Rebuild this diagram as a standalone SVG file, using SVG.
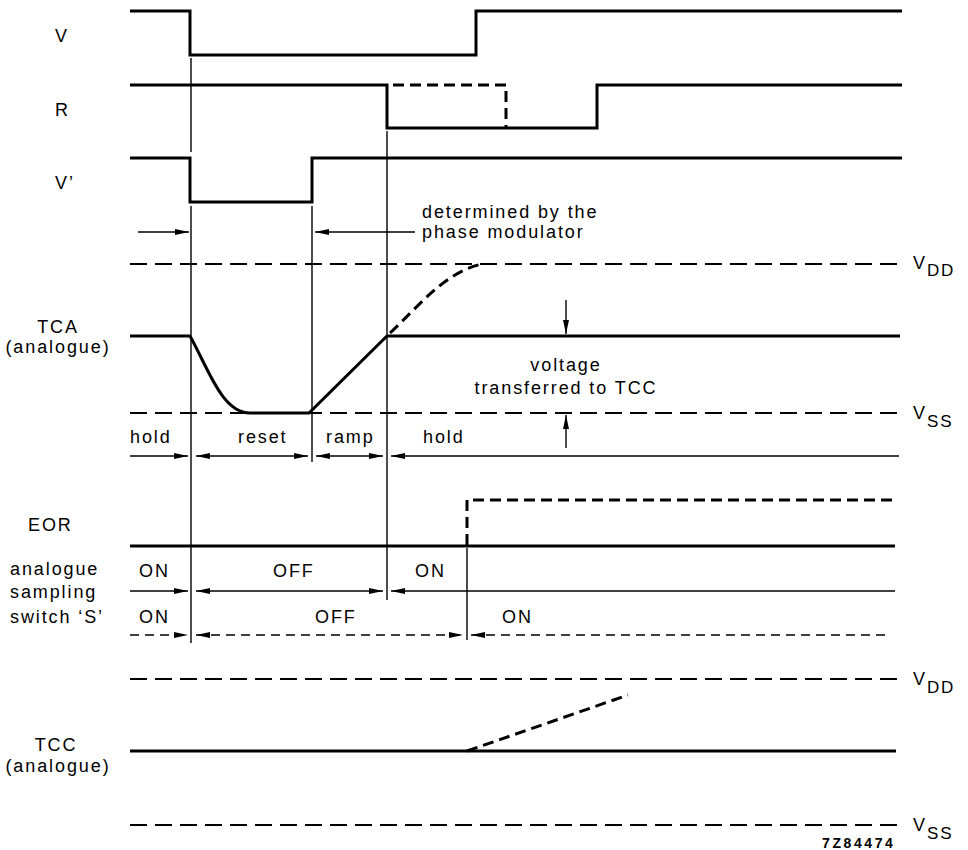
<svg xmlns="http://www.w3.org/2000/svg" width="968" height="850" viewBox="0 0 968 850">
<defs>
<marker id="ah" viewBox="0 0 14 6" refX="14" refY="3" markerWidth="14" markerHeight="6" orient="auto-start-reverse" markerUnits="userSpaceOnUse"><path d="M0,0 L14,3 L0,6 z" fill="#000"/></marker>
<style>
.t{font-family:"Liberation Sans",Arial,sans-serif;font-size:18px;letter-spacing:1.9px;fill:#000}
.s{font-size:17px}
.m{text-anchor:middle}
.w{fill:none;stroke:#000;stroke-width:3}
.wd{fill:none;stroke:#000;stroke-width:3;stroke-dasharray:11 6}
.rail{fill:none;stroke:#000;stroke-width:2.2;stroke-dasharray:17 8}
.a{fill:none;stroke:#000;stroke-width:1.4;marker-end:url(#ah)}
.a2{fill:none;stroke:#000;stroke-width:1.4;marker-start:url(#ah);marker-end:url(#ah)}
.ad{fill:none;stroke:#000;stroke-width:1.4;stroke-dasharray:9 6;marker-end:url(#ah)}
.ad2{fill:none;stroke:#000;stroke-width:1.4;stroke-dasharray:9 6;marker-start:url(#ah);marker-end:url(#ah)}
.ads{fill:none;stroke:#000;stroke-width:1.4;stroke-dasharray:9 6;marker-start:url(#ah)}
.as{fill:none;stroke:#000;stroke-width:1.4;marker-start:url(#ah)}
.g{fill:none;stroke:#000;stroke-width:1.4}
</style>
</defs>
<rect width="968" height="850" fill="#fff"/>

<g id="signal-V">
<text class="t" x="55" y="42">V</text>
<path class="w" d="M130,11 H190 V55 H476 V11 H902"/>
</g>
<g id="signal-R">
<text class="t" x="55" y="116">R</text>
<path class="w" d="M130,85 H387 V128 H597 V85 H902"/>
<path class="wd" d="M393,85 H506 V128"/>
</g>
<g id="signal-Vprime">
<text class="t" x="55" y="189">V’</text>
<path class="w" d="M130,158 H190 V202 H312 V158 H902"/>
</g>

<g id="annotation-phase">
<text class="t" x="422" y="218">determined by the</text>
<text class="t" x="422" y="238">phase modulator</text>
</g>

<g id="signal-TCA">
<text class="t m" x="58" y="333">TCA</text>
<text class="t m" x="58" y="353">(analogue)</text>
<path class="rail" d="M130,264 H898"/>
<path class="rail" d="M130,413 H898"/>
<path class="w" d="M130,336 H190 C208,368 222,413 250,413 H309 L387,336 H900"/>
<path class="wd" d="M390,333 C420,305 445,272 482,264"/>
<text class="t" x="913" y="269">V<tspan class="s" dy="7">DD</tspan></text>
<text class="t" x="913" y="419">V<tspan class="s" dy="8">SS</tspan></text>
</g>

<g id="annotation-voltage">
<text class="t m" x="566" y="371">voltage</text>
<text class="t m" x="566" y="394">transferred to TCC</text>
</g>

<g id="phase-row">
<text class="t" x="130" y="443">hold</text>
<text class="t" x="238" y="443">reset</text>
<text class="t" x="326" y="443">ramp</text>
<text class="t" x="423" y="443">hold</text>
</g>

<g id="signal-EOR">
<text class="t" x="28" y="531">EOR</text>
<path class="w" d="M130,546 H895"/>
<path class="wd" d="M467,545 V500 H897"/>
</g>

<g id="switch-S">
<text class="t" x="10" y="575">analogue</text>
<text class="t" x="10" y="598">sampling</text>
<text class="t" x="10" y="623">switch ‘S’</text>
<text class="t" x="139" y="577">ON</text>
<text class="t" x="273" y="577">OFF</text>
<text class="t" x="415" y="577">ON</text>
<text class="t" x="139" y="623">ON</text>
<text class="t" x="315" y="623">OFF</text>
<text class="t" x="502" y="623">ON</text>
</g>

<g id="signal-TCC">
<text class="t m" x="56" y="751">TCC</text>
<text class="t m" x="58" y="772">(analogue)</text>
<path class="rail" d="M130,679 H898"/>
<path class="rail" d="M130,825 H898"/>
<path class="w" d="M130,751 H896"/>
<path class="wd" d="M467,751 L628,695"/>
<text class="t" x="913" y="685">V<tspan class="s" dy="8">DD</tspan></text>
<text class="t" x="913" y="831">V<tspan class="s" dy="8">SS</tspan></text>
<text x="822" y="848" style="font-family:'Liberation Sans',Arial,sans-serif;font-size:14px;font-weight:bold;letter-spacing:2.6px">7Z84474</text>
</g>

<g id="connectors">
<path class="g" d="M191,58 V152"/>
<path class="g" d="M191,206 V643"/>
<path class="g" d="M312,206 V462"/>
<path class="g" d="M387,131 V600"/>
<path class="g" d="M467,548 V640"/>
<path class="a" d="M138,232 H189"/>
<path class="a" d="M415,232 H315"/>
<path class="a" d="M566,300 V334"/>
<path class="a" d="M566,448 V415"/>
<path class="a" d="M130,456 H188"/>
<path class="a2" d="M196,456 H308"/>
<path class="a2" d="M316,456 H383"/>
<path class="as" d="M391,456 H899"/>
<path class="a" d="M130,591 H188"/>
<path class="a2" d="M196,591 H383"/>
<path class="as" d="M391,591 H895"/>
<path class="ad" d="M130,635 H188"/>
<path class="ad2" d="M196,635 H463"/>
<path class="ads" d="M471,635 H888"/>
</g>
</svg>
